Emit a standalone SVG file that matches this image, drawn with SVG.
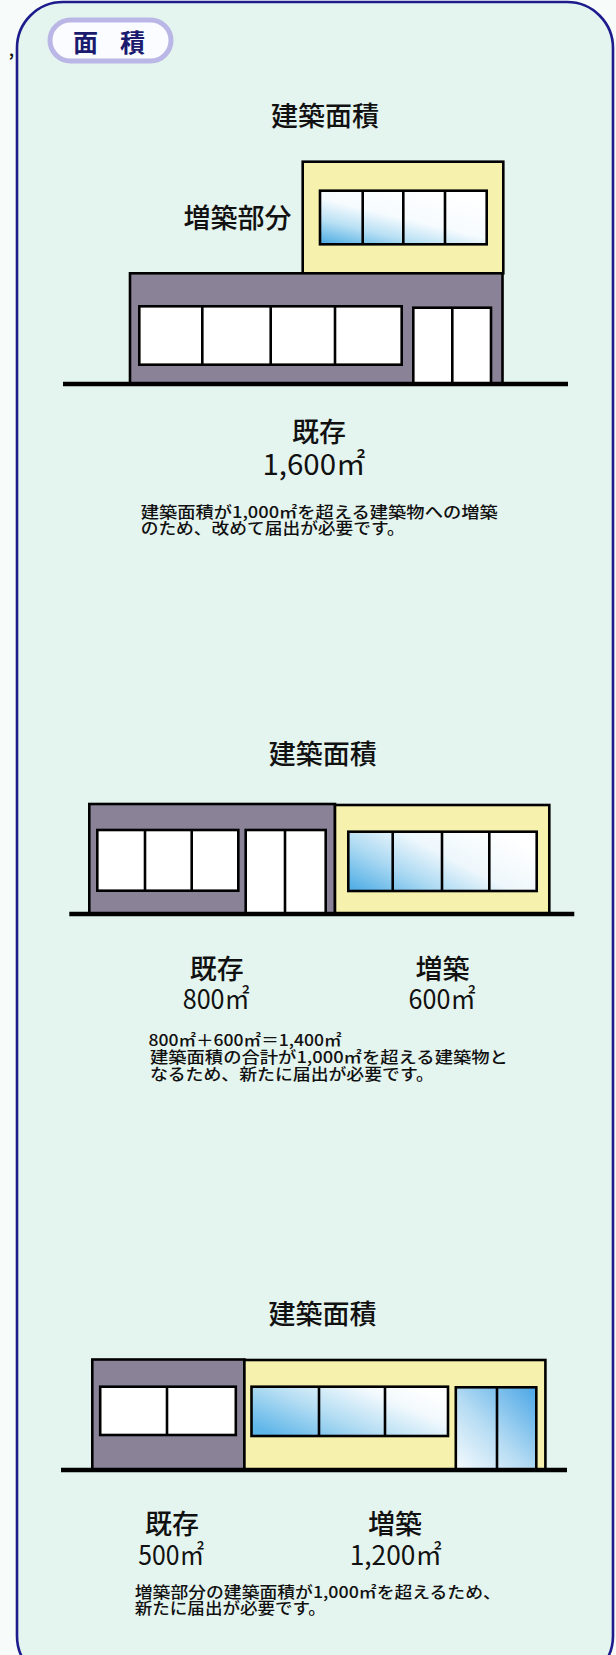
<svg xmlns="http://www.w3.org/2000/svg" width="616" height="1655" viewBox="0 0 616 1655">
  <style>
    .jp { font-family: "Noto Sans CJK JP", "Noto Sans", sans-serif; fill: #111; }
    .label { font-size: 27px; font-weight: 500; }
    .num { font-size: 27px; font-weight: 400; }
    .note { font-size: 15.5px; font-weight: 500; }
    .wall-old { fill: #8a8397; stroke: #000; stroke-width: 2.6; }
    .wall-new { fill: #f6f2ad; stroke: #000; stroke-width: 2.6; }
    .glass { fill: #fff; stroke: #000; stroke-width: 2.6; }
    .mullion { stroke: #000; stroke-width: 2.6; }
    .ground { stroke: #000; stroke-width: 4.6; }
  </style>
  <defs>
    <linearGradient id="glassDiag" x1="0" y1="1" x2="0.75" y2="0">
      <stop offset="0" stop-color="#47a9e2"/>
      <stop offset="0.3" stop-color="#b9e0f4"/>
      <stop offset="0.55" stop-color="#f6fbfe"/>
      <stop offset="1" stop-color="#ffffff"/>
    </linearGradient>
    <linearGradient id="glassRow" x1="0" y1="0.9" x2="1" y2="0.3">
      <stop offset="0" stop-color="#55b0e6"/>
      <stop offset="0.3" stop-color="#a9d8f2"/>
      <stop offset="0.6" stop-color="#eef7fc"/>
      <stop offset="1" stop-color="#ffffff"/>
    </linearGradient>
    <linearGradient id="glassRow3" x1="0" y1="0.8" x2="1" y2="0.2">
      <stop offset="0" stop-color="#5fb6e9"/>
      <stop offset="0.4" stop-color="#b4ddf3"/>
      <stop offset="0.75" stop-color="#f2f9fd"/>
      <stop offset="1" stop-color="#ffffff"/>
    </linearGradient>
    <linearGradient id="glassDoor" x1="0" y1="1" x2="1" y2="0">
      <stop offset="0" stop-color="#f6fbfe"/>
      <stop offset="0.45" stop-color="#b6dcf3"/>
      <stop offset="1" stop-color="#4aa6e6"/>
    </linearGradient>
  </defs>

  <!-- page and panel -->
  <rect x="0" y="0" width="616" height="1655" fill="#f7fbfa"/>
  <rect id="panel" x="17" y="2" width="596" height="1680" rx="46" ry="46" fill="#e4f4ee" stroke="#1c1c8c" stroke-width="2.6"/>
  <text class="jp" x="9" y="56" font-size="15" font-weight="700">,</text>

  <!-- heading badge -->
  <g id="badge">
    <rect x="50" y="20" width="121" height="41" rx="20.5" fill="#fbfcff" stroke="#bab7e6" stroke-width="5"/>
    <text class="jp" x="73" y="52" font-size="25" font-weight="700" style="fill:#1a1a6e" textLength="72" lengthAdjust="spacing">面 積</text>
  </g>

  <!-- case 1: extension stacked on top of an existing building -->
  <g id="case1">
    <text class="jp label" x="325" y="126" text-anchor="middle">建築面積</text>
    <text class="jp label" x="237.5" y="228" text-anchor="middle">増築部分</text>
    <rect class="wall-new" x="302.7" y="161.7" width="200.6" height="111.6"/>
    <rect class="wall-old" x="130" y="273.3" width="372.5" height="110.7"/>
    <rect class="glass" x="320" y="190.7" width="166.7" height="53.6" style="fill:url(#glassDiag)"/>
    <line class="mullion" x1="362.7" y1="190.7" x2="362.7" y2="244.3"/>
    <line class="mullion" x1="403.3" y1="190.7" x2="403.3" y2="244.3"/>
    <line class="mullion" x1="445" y1="190.7" x2="445" y2="244.3"/>
    <rect class="glass" x="139.3" y="306.3" width="262.4" height="58.4"/>
    <line class="mullion" x1="202.3" y1="306.3" x2="202.3" y2="364.7"/>
    <line class="mullion" x1="270.7" y1="306.3" x2="270.7" y2="364.7"/>
    <line class="mullion" x1="335" y1="306.3" x2="335" y2="364.7"/>
    <rect class="glass" x="413.3" y="307.7" width="77.7" height="76.3"/>
    <line class="mullion" x1="452.3" y1="307.7" x2="452.3" y2="384"/>
    <line class="ground" x1="63" y1="384" x2="568" y2="384"/>
    <text class="jp label" x="319" y="442" text-anchor="middle">既存</text>
    <text class="jp num" x="262.5" y="475" style="font-size:29px" textLength="103" lengthAdjust="spacingAndGlyphs">1,600㎡</text>
    <text class="jp note" x="140.7" y="518" textLength="357" lengthAdjust="spacingAndGlyphs">建築面積が1,000㎡を超える建築物への増築</text>
    <text class="jp note" x="140.7" y="534" textLength="264" lengthAdjust="spacingAndGlyphs">のため、改めて届出が必要です。</text>
  </g>

  <!-- case 2: extension built alongside an existing building -->
  <g id="case2">
    <text class="jp label" x="322.8" y="764" text-anchor="middle">建築面積</text>
    <rect class="wall-old" x="89.3" y="804" width="245.7" height="110"/>
    <rect class="wall-new" x="335" y="805" width="214.3" height="109"/>
    <rect class="glass" x="97.3" y="830" width="141" height="60.7"/>
    <line class="mullion" x1="145" y1="830" x2="145" y2="890.7"/>
    <line class="mullion" x1="191.7" y1="830" x2="191.7" y2="890.7"/>
    <rect class="glass" x="245.7" y="830" width="80" height="84"/>
    <line class="mullion" x1="285" y1="830" x2="285" y2="914"/>
    <rect class="glass" x="348.3" y="831.7" width="188.4" height="59.3" style="fill:url(#glassRow)"/>
    <line class="mullion" x1="392.7" y1="831.7" x2="392.7" y2="891"/>
    <line class="mullion" x1="442" y1="831.7" x2="442" y2="891"/>
    <line class="mullion" x1="489.3" y1="831.7" x2="489.3" y2="891"/>
    <line class="ground" x1="69.3" y1="914" x2="574.3" y2="914"/>
    <text class="jp label" x="216.7" y="979" text-anchor="middle">既存</text>
    <text class="jp num" x="182.7" y="1009" textLength="67" lengthAdjust="spacingAndGlyphs">800㎡</text>
    <text class="jp label" x="442.5" y="979" text-anchor="middle">増築</text>
    <text class="jp num" x="408.6" y="1009" textLength="67" lengthAdjust="spacingAndGlyphs">600㎡</text>
    <text class="jp note" x="148.5" y="1046" textLength="193" lengthAdjust="spacingAndGlyphs">800㎡＋600㎡＝1,400㎡</text>
    <text class="jp note" x="149.9" y="1063" textLength="358" lengthAdjust="spacingAndGlyphs">建築面積の合計が1,000㎡を超える建築物と</text>
    <text class="jp note" x="149.9" y="1080" textLength="284" lengthAdjust="spacingAndGlyphs">なるため、新たに届出が必要です。</text>
  </g>

  <!-- case 3: extension larger than the existing building -->
  <g id="case3">
    <text class="jp label" x="322.4" y="1324" text-anchor="middle">建築面積</text>
    <rect class="wall-old" x="92.3" y="1359.5" width="152.1" height="110.5"/>
    <rect class="wall-new" x="244.4" y="1360" width="301" height="110"/>
    <rect class="glass" x="100.2" y="1386.7" width="135.6" height="48.3"/>
    <line class="mullion" x1="167" y1="1386.7" x2="167" y2="1435"/>
    <rect class="glass" x="251.5" y="1386.7" width="196.5" height="49.3" style="fill:url(#glassRow3)"/>
    <line class="mullion" x1="319" y1="1386.7" x2="319" y2="1436"/>
    <line class="mullion" x1="385" y1="1386.7" x2="385" y2="1436"/>
    <rect class="glass" x="455.8" y="1387.3" width="80.5" height="82.7" style="fill:url(#glassDoor)"/>
    <line class="mullion" x1="497" y1="1387.3" x2="497" y2="1470"/>
    <line class="ground" x1="61" y1="1470" x2="567" y2="1470"/>
    <text class="jp label" x="172" y="1534" text-anchor="middle">既存</text>
    <text class="jp num" x="138.3" y="1565" textLength="66" lengthAdjust="spacingAndGlyphs">500㎡</text>
    <text class="jp label" x="395" y="1534" text-anchor="middle">増築</text>
    <text class="jp num" x="349.7" y="1565" textLength="92" lengthAdjust="spacingAndGlyphs">1,200㎡</text>
    <text class="jp note" x="134.8" y="1598" textLength="366" lengthAdjust="spacingAndGlyphs">増築部分の建築面積が1,000㎡を超えるため、</text>
    <text class="jp note" x="134.8" y="1614" textLength="191" lengthAdjust="spacingAndGlyphs">新たに届出が必要です。</text>
  </g>
</svg>
